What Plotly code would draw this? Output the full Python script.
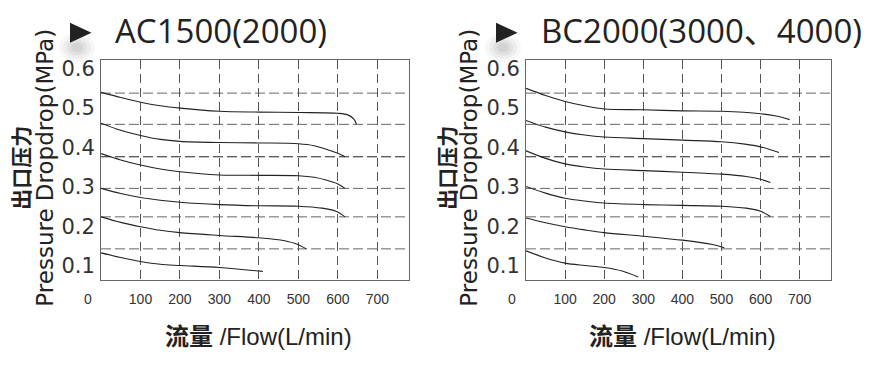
import plotly.graph_objects as go

W, H = 875, 370

# ---------------- data ----------------
x_ticks = [100, 200, 300, 400, 500, 600, 700]
y_ticks = [0.1, 0.2, 0.3, 0.4, 0.5, 0.6]
y_tick_text = ["0.1", "0.2", "0.3", "0.4", "0.5", "0.6"]
set_pressures = [0.537, 0.458, 0.376, 0.296, 0.224, 0.143]

titles = ["AC1500(2000)", "BC2000(3000、4000)"]

ac_flows = [
    [0, 50, 100, 150, 200, 300, 400, 500, 600, 625, 640, 647],
    [0, 50, 100, 150, 200, 300, 400, 500, 540, 570, 600, 618],
    [0, 50, 100, 150, 200, 300, 400, 500, 540, 570, 600, 618],
    [0, 50, 100, 150, 200, 300, 400, 500, 560, 595, 618],
    [0, 50, 100, 150, 200, 300, 400, 450, 490, 520],
    [0, 50, 100, 150, 200, 300, 410],
]
ac_press = [
    [0.539, 0.526, 0.514, 0.505, 0.499, 0.491, 0.489, 0.488, 0.486, 0.482, 0.472, 0.458],
    [0.461, 0.443, 0.430, 0.420, 0.415, 0.412, 0.411, 0.409, 0.404, 0.395, 0.385, 0.376],
    [0.384, 0.368, 0.355, 0.345, 0.338, 0.330, 0.329, 0.328, 0.324, 0.317, 0.307, 0.296],
    [0.296, 0.283, 0.273, 0.266, 0.261, 0.255, 0.252, 0.251, 0.246, 0.238, 0.224],
    [0.224, 0.210, 0.199, 0.190, 0.184, 0.177, 0.171, 0.166, 0.157, 0.143],
    [0.133, 0.121, 0.111, 0.104, 0.101, 0.096, 0.086],
]

bc_flows = [
    [0, 50, 100, 150, 200, 300, 400, 500, 600, 640, 674],
    [0, 50, 100, 150, 200, 300, 400, 500, 560, 600, 647],
    [0, 50, 100, 150, 200, 300, 400, 500, 563, 600, 625],
    [0, 50, 100, 150, 200, 300, 400, 500, 563, 600, 625],
    [0, 50, 100, 150, 200, 300, 400, 477, 507],
    [0, 50, 100, 150, 200, 246, 287],
]
bc_press = [
    [0.549, 0.531, 0.516, 0.505, 0.497, 0.495, 0.492, 0.491, 0.485, 0.479, 0.470],
    [0.468, 0.451, 0.439, 0.431, 0.426, 0.422, 0.418, 0.414, 0.408, 0.401, 0.387],
    [0.391, 0.372, 0.358, 0.350, 0.345, 0.341, 0.337, 0.332, 0.326, 0.319, 0.311],
    [0.301, 0.284, 0.271, 0.264, 0.259, 0.255, 0.253, 0.251, 0.246, 0.238, 0.225],
    [0.221, 0.209, 0.199, 0.191, 0.184, 0.175, 0.165, 0.154, 0.146],
    [0.138, 0.120, 0.107, 0.101, 0.096, 0.087, 0.072],
]

# ---------------- layout helpers ----------------
def px(x):
    return x / W

def py(y):
    return 1 - y / H

panels = [
    dict(left=101, right=409, flows=ac_flows, press=ac_press, title=titles[0],
         tri_x=70, title_x=113, xt_center=258, yt1=20, yt2=45, zero_x=88),
    dict(left=526, right=831, flows=bc_flows, press=bc_press, title=titles[1],
         tri_x=496, title_x=539, xt_center=682, yt1=446, yt2=469, zero_x=512),
]
top_px, bot_px = 57, 279

fig = go.Figure()
shapes = []
annotations = []

tick_font = dict(family="Liberation Sans, Arial, sans-serif", size=14, color="#333")
ytick_font = dict(family="DejaVu Sans, Verdana, sans-serif", size=21, color="#333")

for i, p in enumerate(panels):
    xa = "x" if i == 0 else "x2"
    ya = "y" if i == 0 else "y2"
    xkey = "xaxis" if i == 0 else "xaxis2"
    ykey = "yaxis" if i == 0 else "yaxis2"

    for fx, pv in zip(p["flows"], p["press"]):
        fig.add_trace(go.Scatter(
            x=fx, y=pv, mode="lines", xaxis=xa, yaxis=ya,
            line=dict(color="#222", width=1.1, shape="spline", smoothing=0.9),
            showlegend=False, hoverinfo="skip",
        ))

    fig.update_layout({
        xkey: dict(
            domain=[px(p["left"]), px(p["right"])], range=[0, 780],
            anchor=ya, tickvals=x_ticks, ticktext=[str(v) for v in x_ticks],
            showgrid=True, gridcolor="#555", gridwidth=1, griddash="9px,5px",
            showline=True, mirror=True, linecolor="#666", linewidth=1,
            ticks="", zeroline=False, tickfont=tick_font, ticklabelstandoff=6,
        ),
        ykey: dict(
            domain=[py(bot_px), py(top_px)], range=[0.0649, 0.622],
            anchor=xa, tickvals=y_ticks, ticktext=y_tick_text,
            showgrid=False, showline=True, mirror=True, linecolor="#666",
            linewidth=1, ticks="", zeroline=False, tickfont=ytick_font,
            ticklabelstandoff=1,
        ),
    })

    # horizontal set-pressure grid lines
    for k, sp in enumerate(set_pressures):
        shapes.append(dict(
            type="line", xref=f"{xa} domain", yref=ya, x0=0, x1=1, y0=sp, y1=sp,
            line=dict(color="#222" if k == 2 else "#666", width=1, dash="10px,4px"),
            layer="below",
        ))

    # soft shadow behind title marker
    cx, cy = p["tri_x"] + 7, 45
    for r, op in [(18, 0.05), (14, 0.06), (10, 0.08), (6, 0.09)]:
        shapes.append(dict(
            type="circle", xref="paper", yref="paper",
            x0=px(cx - r), x1=px(cx + r), y0=py(cy + r * 0.8), y1=py(cy - r * 0.8),
            fillcolor=f"rgba(90,90,90,{op})", line=dict(width=0), layer="below",
        ))
    # title marker triangle
    tx = p["tri_x"]
    shapes.append(dict(
        type="path", xref="paper", yref="paper",
        path=f"M {px(tx)},{py(20)} L {px(tx + 21.5)},{py(30)} L {px(tx)},{py(40)} Z",
        fillcolor="#222", line=dict(width=0),
    ))

    annotations.append(dict(
        text=p["title"], xref="paper", yref="paper", x=px(p["title_x"]), y=py(28),
        xanchor="left", yanchor="middle", showarrow=False,
        font=dict(family="Open Sans, Noto Sans CJK SC", size=33, color="#222"),
    ))
    annotations.append(dict(
        text="<b>出口压力</b>", xref="paper", yref="paper", x=px(p["yt1"]), y=py(166),
        xanchor="center", yanchor="middle", showarrow=False, textangle=-90,
        font=dict(family="Noto Sans CJK SC", size=21, color="#222"),
    ))
    annotations.append(dict(
        text="Pressure Dropdrop(MPa)", xref="paper", yref="paper", x=px(p["yt2"]), y=py(166),
        xanchor="center", yanchor="middle", showarrow=False, textangle=-90,
        font=dict(family="DejaVu Sans, sans-serif", size=23, color="#222"),
    ))
    annotations.append(dict(
        text="<b>流量</b> /Flow(L/min)", xref="paper", yref="paper", x=px(p["xt_center"]), y=py(336),
        xanchor="center", yanchor="middle", showarrow=False,
        font=dict(family="Liberation Sans, Arial, Noto Sans CJK SC", size=24, color="#222"),
    ))
    annotations.append(dict(
        text="0", xref=xa, yref="paper", x=0, y=py(298), xshift=p["zero_x"] - p["left"],
        xanchor="center", yanchor="middle", showarrow=False, font=tick_font,
    ))

fig.update_layout(
    width=W, height=H, margin=dict(l=0, r=0, t=0, b=0),
    paper_bgcolor="white", plot_bgcolor="white",
    shapes=shapes, annotations=annotations, showlegend=False,
)

fig.write_html("out.html", config={"displayModeBar": False},
               post_script="document.body.style.margin='0';")
